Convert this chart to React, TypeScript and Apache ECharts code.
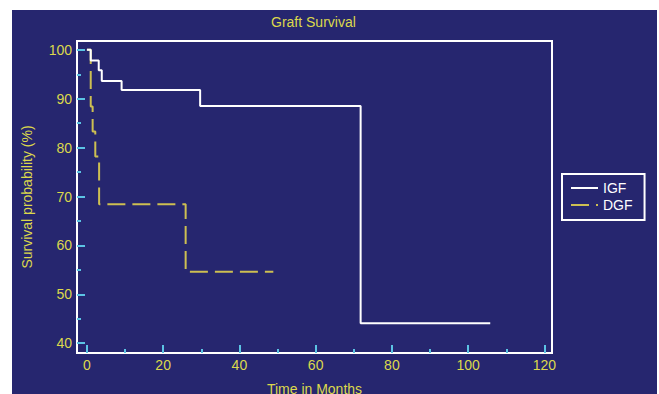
import React, { useEffect, useRef } from "react";
import * as echarts from "echarts";

const igfTimes = [0, 1.0, 3.1, 3.9, 9.1, 29.7, 71.8, 105.8];
const igfSurvival = [100, 97.8, 95.8, 93.6, 91.8, 88.5, 44.1, 44.1];
const dgfTimes = [0, 1.0, 1.5, 2.2, 3.2, 25.9, 48.9];
const dgfSurvival = [100, 88.4, 83.3, 78.2, 68.4, 54.6, 54.6];

const seriesNames = ["IGF", "DGF"];
const xMajorTicks = [0, 20, 40, 60, 80, 100, 120];
const xMinorTicks = [10, 30, 50, 70, 90, 110];
const yMajorTicks = [40, 50, 60, 70, 80, 90, 100];
const yMinorTicks = [45, 55, 65, 75, 85, 95];
const titleText = "Graft Survival";
const xName = "Time in Months";
const yName = "Survival probability (%)";

const X_MIN = -2.6;
const X_MAX = 122;
const Y_MIN = 38;
const Y_MAX = 101.8;

const BG = "#26266f";
const YELLOW = "#dcd84c";
const CYAN = "#5cc4e4";
const FONT = "Liberation Sans";

export default function App() {
  const ref = useRef<HTMLDivElement>(null);
  useEffect(() => {
    if (!ref.current) return;
    const chart = echarts.init(ref.current, undefined, { renderer: "svg" });
    const igf = igfTimes.map((t, i) => [t, igfSurvival[i]]);
    const dgf = dgfTimes.map((t, i) => [t, dgfSurvival[i]]);
    const tickStyle = { color: CYAN, width: 2 };
    const labelStyle = { color: YELLOW, fontSize: 14, fontFamily: FONT };
    const noLine = { show: false, onZero: false };
    chart.setOption({
      animation: false,
      backgroundColor: BG,
      textStyle: { fontFamily: FONT },
      title: {
        text: titleText,
        left: 259,
        top: 5,
        padding: 0,
        textStyle: { color: YELLOW, fontSize: 14, fontWeight: "normal", fontFamily: FONT },
      },
      legend: {
        orient: "vertical",
        left: 550,
        top: 164,
        padding: [7, 12, 8, 8],
        borderColor: "#ffffff",
        borderWidth: 2,
        itemWidth: 27,
        itemHeight: 12,
        itemGap: 3,
        itemStyle: { opacity: 0 },
        textStyle: { color: "#ffffff", fontSize: 14, fontFamily: FONT },
        data: seriesNames,
      },
      grid: {
        left: 65,
        right: 105,
        top: 31,
        bottom: 41,
        show: true,
        borderColor: "#ffffff",
        borderWidth: 2,
        backgroundColor: "transparent",
        containLabel: false,
        outerBoundsMode: "none",
      },
      xAxis: [
        {
          type: "value",
          min: X_MIN,
          max: X_MAX,
          name: xName,
          nameLocation: "middle",
          nameGap: 29,
          nameTextStyle: labelStyle,
          axisLine: noLine,
          axisTick: { show: true, inside: true, length: 8, lineStyle: tickStyle, customValues: xMajorTicks },
          axisLabel: { ...labelStyle, margin: 5, customValues: xMajorTicks },
          splitLine: { show: false },
        },
        {
          type: "value",
          min: X_MIN,
          max: X_MAX,
          position: "bottom",
          axisLine: noLine,
          axisTick: { show: true, inside: true, length: 4, lineStyle: tickStyle, customValues: xMinorTicks },
          axisLabel: { show: false, customValues: xMinorTicks },
          splitLine: { show: false },
        },
      ],
      yAxis: [
        {
          type: "value",
          min: Y_MIN,
          max: Y_MAX,
          name: yName,
          nameLocation: "middle",
          nameGap: 43,
          nameTextStyle: labelStyle,
          axisLine: noLine,
          axisTick: { show: true, inside: true, length: 8, lineStyle: tickStyle, customValues: yMajorTicks },
          axisLabel: { ...labelStyle, margin: 5, customValues: yMajorTicks },
          splitLine: { show: false },
        },
        {
          type: "value",
          min: Y_MIN,
          max: Y_MAX,
          position: "left",
          axisLine: noLine,
          axisTick: { show: true, inside: true, length: 4, lineStyle: tickStyle, customValues: yMinorTicks },
          axisLabel: { show: false, customValues: yMinorTicks },
          splitLine: { show: false },
        },
      ],
      series: [
        {
          name: seriesNames[1],
          type: "line",
          step: "end",
          data: dgf,
          symbol: "none",
          lineStyle: { color: "#cdbf52", width: 2, type: [18, 7] },
          itemStyle: { color: "#cdbf52" },
          z: 3,
        },
        {
          name: seriesNames[0],
          type: "line",
          step: "end",
          data: igf,
          symbol: "none",
          lineStyle: { color: "#ffffff", width: 2 },
          itemStyle: { color: "#ffffff" },
          z: 4,
        },
      ],
    });
    return () => chart.dispose();
  }, []);
  return (
    <div
      ref={ref}
      style={{ position: "fixed", left: 12, top: 10, width: 645, height: 384 }}
    />
  );
}
